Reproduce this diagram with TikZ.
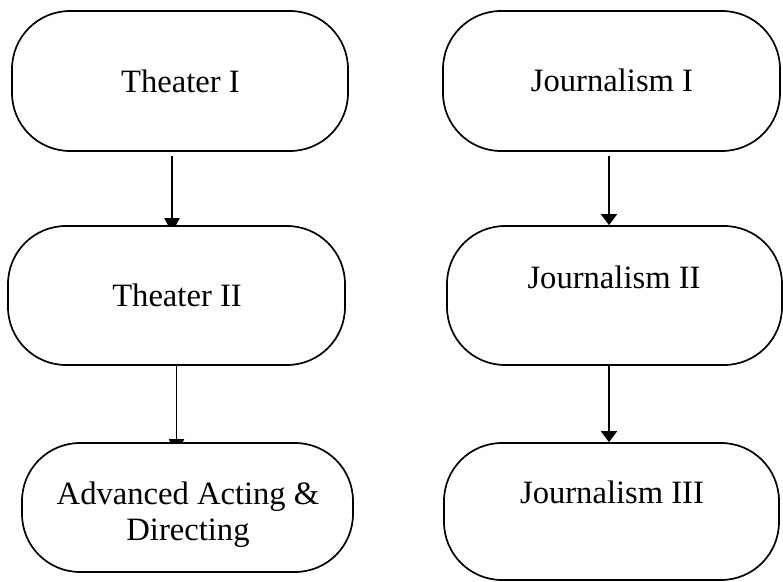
\documentclass[tikz,border=0pt]{standalone}
\usepackage{fontspec}
\setmainfont{Liberation Serif}
\usetikzlibrary{arrows.meta,backgrounds}
\begin{document}
\begin{tikzpicture}[x=0.5pt,y=-0.5pt,
  pill/.style={draw=black,fill=white,line width=0.85pt,rounded corners=29pt,
    rectangle,inner sep=0pt},
  lbl/.style={anchor=base,align=center,font=\fontsize{16.3}{18}\selectfont,inner sep=0pt},
  arrR/.style={line width=0.85pt,-{Triangle[width=8pt,length=5.5pt]}},
  arrL/.style={line width=0.85pt,-{Triangle[width=7.5pt,length=7.5pt]}}]
\useasboundingbox (0,0) rectangle (783,582);
% boxes
\node[pill,minimum width=168pt,minimum height=70pt] (b1) at (180,81) {};
\node[pill,minimum width=168.5pt,minimum height=69.5pt] (b2) at (176.5,295.5) {};
\node[pill,minimum width=165.5pt,minimum height=64.5pt] (b3) at (187.5,507.5) {};
\node[pill,minimum width=168.5pt,minimum height=70pt] (j1) at (611.5,81) {};
\node[pill,minimum width=167.5pt,minimum height=69.5pt] (j2) at (614.5,295.5) {};
\node[pill,minimum width=167.5pt,minimum height=68.5pt] (j3) at (611.5,511.5) {};
% labels
\node[lbl] (t1) at (180.5,93) {Theater I};
\node[lbl] (t2) at (177,307) {Theater II};
\node[lbl,anchor=north] (t3) at (188,481) {Advanced Acting \&\\Directing};
\node[lbl] (u1) at (612,92) {Journalism I};
\node[lbl] (u2) at (614,289) {Journalism II};
\node[lbl] (u3) at (612,504) {Journalism III};
% connectors (behind boxes)
\begin{scope}[on background layer]
\draw[arrL,shorten <=2pt,shorten >=-4pt] ([xshift=-4pt]b1.south) -- ([xshift=-4pt]b1.south |- b2.north);
\draw[arrL,shorten >=-6pt] (b2.south) -- (b2.south |- b3.north);
\draw[arrR,shorten <=2pt] ([xshift=-1.25pt]j1.south) -- ([xshift=-1.25pt]j1.south |- j2.north);
\draw[arrR] ([xshift=-2.75pt]j2.south) -- ([xshift=-2.75pt]j2.south |- j3.north);
\end{scope}
\end{tikzpicture}
\end{document}
